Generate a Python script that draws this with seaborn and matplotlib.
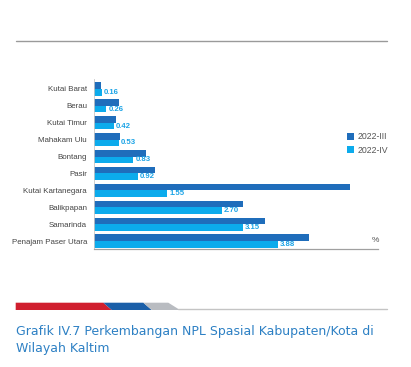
import matplotlib
matplotlib.use("Agg")
import matplotlib.pyplot as plt
from matplotlib.patches import Polygon, Patch
from matplotlib.lines import Line2D
import seaborn as sns
import pandas as pd

categories = ["Kutai Barat", "Berau", "Kutai Timur", "Mahakam Ulu", "Bontang", "Pasir",
              "Kutai Kartanegara", "Balikpapan", "Samarinda", "Penajam Paser Utara"]
q3_2022 = [0.15, 0.53, 0.46, 0.55, 1.10, 1.28, 5.40, 3.15, 3.62, 4.54]
q4_2022 = [0.16, 0.26, 0.42, 0.53, 0.83, 0.92, 1.55, 2.70, 3.15, 3.88]
series_names = ["2022-III", "2022-IV"]
caption_lines = ["Grafik IV.7 Perkembangan NPL Spasial Kabupaten/Kota di", "Wilayah Kaltim"]

df = pd.DataFrame({
    "region": categories * 2,
    "value": q3_2022 + q4_2022,
    "period": [series_names[0]] * len(categories) + [series_names[1]] * len(categories),
})

sns.set_theme(style="white")
plt.rcParams["font.family"] = ["Liberation Sans", "DejaVu Sans"]

W, H = 411, 367
fig = plt.figure(figsize=(W / 100, H / 100), dpi=100)
ax = fig.add_axes([94 / W, (H - 249) / H, (378 - 94) / W, 170 / H])

dark = "#1f6dbb"
light = "#0cabec"
sns.barplot(data=df, y="region", x="value", hue="period", orient="h",
            palette=[dark, light], width=0.78, ax=ax, legend=False,
            saturation=1, linewidth=0)

ax.set_xlim(0, 6.0)
ax.set_ylim(9.47, -0.59)
ax.set_xlabel("")
ax.set_ylabel("")
ax.set_xticks([])
ax.tick_params(axis="y", length=0, pad=5, labelsize=5.7, labelcolor="#444444")
for s in ["top", "right"]:
    ax.spines[s].set_visible(False)
ax.spines["bottom"].set_color("#a0a0a0")
ax.spines["bottom"].set_linewidth(0.9)
ax.spines["left"].set_color("#c8c8c8")
ax.spines["left"].set_linewidth(0.6)

ax.bar_label(ax.containers[1], fmt="%.2f", padding=1.5, fontsize=5.6,
             color="#1aa3e6", fontweight="bold")

handles = [Patch(facecolor=dark, edgecolor="none"), Patch(facecolor=light, edgecolor="none")]
fig.legend(handles, series_names, loc="upper left",
           bbox_to_anchor=(343 / W, 1 - 128 / H), frameon=False,
           fontsize=6.3, handlelength=0.7, handleheight=0.9, handletextpad=0.5,
           labelspacing=0.5, borderpad=0, labelcolor="#555555")

fig.text(375 / W, 1 - 240 / H, "%", fontsize=6, color="#555555", ha="center", va="center")

# top rule
fig.add_artist(Line2D([16 / W, 387 / W], [1 - 41 / H] * 2, color="#9a9a9a", lw=1.0))

# bottom decoration
def poly(pts, color):
    fig.add_artist(Polygon([(x / W, 1 - y / H) for x, y in pts], closed=True,
                           facecolor=color, edgecolor="none", transform=fig.transFigure))

poly([(15.7, 302.7), (103.3, 302.7), (111.7, 310), (15.7, 310)], "#d01f2e")
poly([(103.3, 302.7), (143.3, 302.7), (151.7, 310), (111.7, 310)], "#1b5fa8")
poly([(143.3, 302.7), (168.3, 302.7), (180, 310), (151.7, 310)], "#b9bcc1")
fig.add_artist(Line2D([178 / W, 387 / W], [1 - 309.4 / H] * 2, color="#c4c4c4", lw=1.0))

for i, line in enumerate(caption_lines):
    fig.text(15.7 / W, 1 - (334.5 + 17.4 * i) / H, line, fontsize=9.0, color="#2d80c4",
             ha="left", va="baseline", family=["DejaVu Sans"])

fig.savefig("out.png", dpi=100)
